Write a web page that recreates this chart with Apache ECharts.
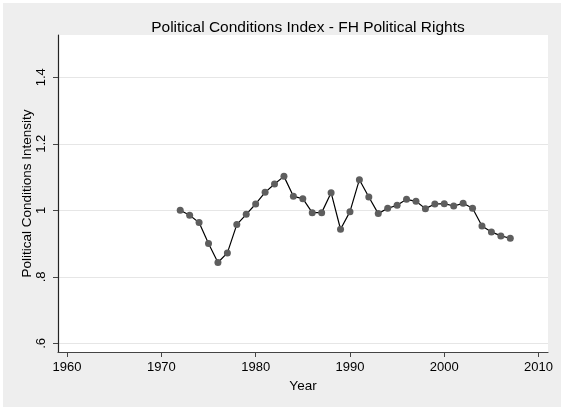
<!DOCTYPE html>
<html>
<head>
<meta charset="utf-8">
<script src="https://cdn.jsdelivr.net/npm/echarts@6/dist/echarts.min.js"></script>
<style>
  html, body { margin: 0; padding: 0; background: #fff; }
  #chart { width: 561px; height: 407px; }
</style>
</head>
<body>
<div id="chart"></div>
<script>
// years and index values
const years = [
  1972, 1973, 1974, 1975, 1976, 1977, 1978, 1979, 1980, 1981, 1982, 1983,
  1984, 1985, 1986, 1987, 1988, 1989, 1990, 1991, 1992, 1993, 1994, 1995,
  1996, 1997, 1998, 1999, 2000, 2001, 2002, 2003, 2004, 2005, 2006, 2007,
];
const values = [
  1.0, 0.985, 0.963, 0.9, 0.843, 0.872, 0.957, 0.988, 1.019, 1.054, 1.079, 1.102,
  1.042, 1.035, 0.993, 0.993, 1.053, 0.943, 0.996, 1.092, 1.04, 0.99, 1.006, 1.015,
  1.033, 1.027, 1.005, 1.019, 1.02, 1.013, 1.021, 1.006, 0.953, 0.935, 0.923, 0.916,
];
const xTicks = [1960, 1970, 1980, 1990, 2000, 2010];
const yTicks = [0.6, 0.8, 1.0, 1.2, 1.4];

const chart = echarts.init(document.getElementById("chart"));
chart.setOption({
  backgroundColor: "#ffffff",
  animation: false,
  textStyle: { fontFamily: "Liberation Sans, Arial, sans-serif", color: "#000" },
  graphic: [
    {
      type: "rect",
      z: -10,
      shape: { x: 3, y: 3, width: 558, height: 404 },
      style: { fill: "#eeeeee" },
    },
  ],
  title: {
    text: "Political Conditions Index - FH Political Rights",
    left: 303,
    top: 15,
    textAlign: "center",
    textStyle: { fontSize: 15.5, fontWeight: "normal", color: "#000" },
  },
  grid: {
    left: 58,
    right: 13,
    top: 35,
    bottom: 55,
    show: true,
    backgroundColor: "#ffffff",
    borderWidth: 0,
  },
  xAxis: {
    type: "value",
    min: 1959.04,
    max: 2011.0,
    name: "Year",
    nameLocation: "middle",
    nameGap: 26,
    nameTextStyle: { fontSize: 13.5, color: "#000" },
    axisLine: { show: true, lineStyle: { color: "#444", width: 1.2 } },
    axisTick: { show: true, length: 5, customValues: xTicks, lineStyle: { color: "#444" } },
    axisLabel: {
      customValues: xTicks,
      fontSize: 13,
      color: "#000",
      margin: 9,
      formatter: (v) => String(v),
    },
    splitLine: { show: false },
  },
  yAxis: {
    type: "value",
    min: 0.574,
    max: 1.527,
    name: "Political Conditions Intensity",
    nameLocation: "middle",
    nameGap: 24,
    nameMoveOverlap: false,
    nameTextStyle: { fontSize: 13.5, color: "#000" },
    axisLine: { show: true, lineStyle: { color: "#222", width: 1.2 } },
    axisTick: { show: true, length: 5, customValues: yTicks, lineStyle: { color: "#444" } },
    axisLabel: {
      customValues: yTicks,
      rotate: 90,
      fontSize: 13,
      color: "#000",
      margin: 10,
      formatter: (v) => String(+v.toFixed(1)).replace(/^0\./, "."),
    },
    splitLine: { show: true, lineStyle: { color: "#e6e6e6", width: 1 } },
  },
  series: [
    {
      type: "line",
      data: years.map((y, i) => [y, values[i]]),
      symbol: "circle",
      symbolSize: 7,
      lineStyle: { color: "#000", width: 1.2 },
      itemStyle: { color: "#5e5e5e" },
    },
  ],
});
</script>
</body>
</html>
